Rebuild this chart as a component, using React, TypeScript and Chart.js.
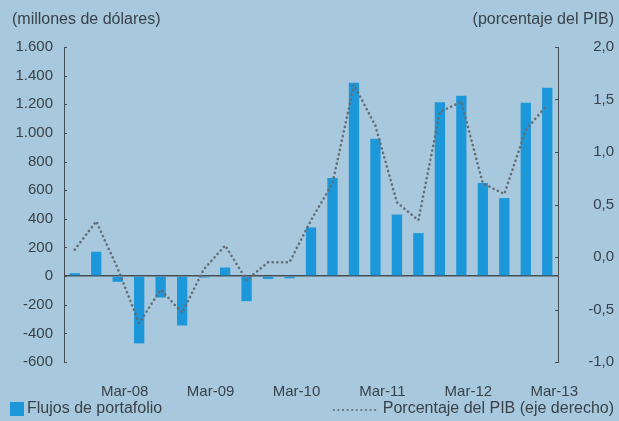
import React, { useEffect, useRef } from "react";
import { Chart, registerables } from "chart.js";

Chart.register(...registerables);

const categories = [
  "Sep-07", "Dic-07", "Mar-08", "Jun-08", "Sep-08", "Dic-08", "Mar-09", "Jun-09",
  "Sep-09", "Dic-09", "Mar-10", "Jun-10", "Sep-10", "Dic-10", "Mar-11", "Jun-11",
  "Sep-11", "Dic-11", "Mar-12", "Jun-12", "Sep-12", "Dic-12", "Mar-13",
];

const flujosPortafolio = [
  20, 170, -40, -470, -150, -345, -10, 60, -175, -20, -15, 340, 685, 1350, 960,
  430, 300, 1215, 1260, 650, 545, 1210, 1315,
];

const porcentajePIB = [
  0.07, 0.34, -0.11, -0.63, -0.31, -0.53, -0.12, 0.11, -0.22, -0.05, -0.05, 0.35,
  0.7, 1.64, 1.25, 0.52, 0.35, 1.38, 1.48, 0.7, 0.6, 1.21, 1.45,
];

const leftTitle = "(millones de dólares)";
const rightTitle = "(porcentaje del PIB)";
const legendBars = "Flujos de portafolio";
const legendLine = "Porcentaje del PIB (eje derecho)";

const BG = "rgb(168,200,221)";
const BAR = "rgb(28,152,218)";
const TEXT = "#39424a";
const AXIS = "#454d54";
const DOT = "#646d74";
const FONT = "'Liberation Sans', Arial, sans-serif";

const decorPlugin = {
  id: "decor",
  beforeDraw(chart: any) {
    const { ctx, width, height } = chart;
    ctx.save();
    ctx.fillStyle = BG;
    ctx.fillRect(0, 0, width, height);
    ctx.restore();
  },
  afterDraw(chart: any) {
    const { ctx, chartArea } = chart;
    ctx.save();
    ctx.strokeStyle = AXIS;
    ctx.lineWidth = 1;
    const y = chart.scales.y;
    const y1 = chart.scales.y1;
    y.ticks.forEach((t: any) => {
      const py = Math.round(y.getPixelForValue(t.value)) + 0.5;
      ctx.beginPath();
      ctx.moveTo(chartArea.left, py);
      ctx.lineTo(chartArea.left + 3, py);
      ctx.stroke();
    });
    y1.ticks.forEach((t: any) => {
      const py = Math.round(y1.getPixelForValue(t.value)) + 0.5;
      ctx.beginPath();
      ctx.moveTo(chartArea.right, py);
      ctx.lineTo(chartArea.right - 3, py);
      ctx.stroke();
    });

    ctx.fillStyle = TEXT;
    ctx.font = `16px ${FONT}`;
    ctx.textBaseline = "middle";
    ctx.textAlign = "left";
    ctx.fillText(leftTitle, 12, 20);
    ctx.textAlign = "right";
    ctx.fillText(rightTitle, 614, 20);

    const ly = 409;
    ctx.fillStyle = BAR;
    ctx.fillRect(10, ly - 7, 14, 14);
    ctx.fillStyle = TEXT;
    ctx.textAlign = "left";
    ctx.fillText(legendBars, 27, ly);
    ctx.textAlign = "right";
    ctx.fillText(legendLine, 614, ly);
    const tw = ctx.measureText(legendLine).width;
    const lineEnd = 614 - tw - 4;
    ctx.strokeStyle = DOT;
    ctx.lineWidth = 2;
    ctx.lineCap = "round";
    ctx.setLineDash([0.1, 4.5]);
    ctx.beginPath();
    ctx.moveTo(lineEnd - 45, ly + 1);
    ctx.lineTo(lineEnd, ly + 1);
    ctx.stroke();
    ctx.restore();
  },
};

export default function App() {
  const ref = useRef<HTMLCanvasElement>(null);

  useEffect(() => {
    document.body.style.margin = "0";
    const chart = new Chart(ref.current as HTMLCanvasElement, {
      data: {
        labels: categories,
        datasets: [
          {
            type: "line",
            label: legendLine,
            data: porcentajePIB,
            yAxisID: "y1",
            borderColor: DOT,
            borderWidth: 2.6,
            borderDash: [0.1, 4.6],
            borderCapStyle: "round",
            pointRadius: 0,
            tension: 0,
            fill: false,
            order: 0,
          },
          {
            type: "bar",
            label: legendBars,
            data: flujosPortafolio,
            yAxisID: "y",
            backgroundColor: BAR,
            borderWidth: 0,
            barPercentage: 0.48,
            categoryPercentage: 1,
            order: 1,
          },
        ],
      } as any,
      options: {
        responsive: false,
        animation: false,
        maintainAspectRatio: false,
        layout: { padding: { top: 47, right: 5, bottom: 0, left: 0 } },
        plugins: {
          legend: { display: false },
          tooltip: { enabled: false },
          title: { display: false },
        },
        scales: {
          x: {
            type: "category",
            offset: true,
            grid: { display: false },
            border: { display: false },
            ticks: {
              autoSkip: false,
              maxRotation: 0,
              minRotation: 0,
              padding: 13,
              labelOffset: 7,
              color: TEXT,
              font: { family: FONT, size: 15 },
              callback: (_v: any, i: number) =>
                categories[i].startsWith("Mar") ? categories[i] : "",
            },
            afterFit: (s: any) => {
              s.height = 59;
            },
          },
          y: {
            position: "left",
            min: -600,
            max: 1600,
            grid: {
              drawTicks: false,
              color: (c: any) => (c.tick && c.tick.value === 0 ? AXIS : "rgba(0,0,0,0)"),
              lineWidth: 1.5,
            },
            border: { display: true, color: AXIS, width: 1 },
            ticks: {
              stepSize: 200,
              padding: 11,
              color: TEXT,
              font: { family: FONT, size: 15 },
              callback: (v: any) => {
                const n = Number(v);
                const s = Math.abs(n).toString().replace(/\B(?=(\d{3})+(?!\d))/g, ".");
                return (n < 0 ? "-" : "") + s;
              },
            },
            afterFit: (s: any) => {
              s.width = 64;
            },
          },
          y1: {
            position: "right",
            min: -1,
            max: 2,
            grid: { display: false, drawOnChartArea: false },
            border: { display: true, color: AXIS, width: 1 },
            ticks: {
              stepSize: 0.5,
              padding: 20,
              crossAlign: "far",
              color: TEXT,
              font: { family: FONT, size: 15 },
              callback: (v: any) => Number(v).toFixed(1).replace(".", ","),
            },
            afterFit: (s: any) => {
              s.width = 56;
            },
          },
        },
      } as any,
      plugins: [decorPlugin],
    });
    return () => chart.destroy();
  }, []);

  return (
    <div style={{ width: 619, height: 421, background: BG }}>
      <canvas ref={ref} width={619} height={421} style={{ display: "block" }} />
    </div>
  );
}
